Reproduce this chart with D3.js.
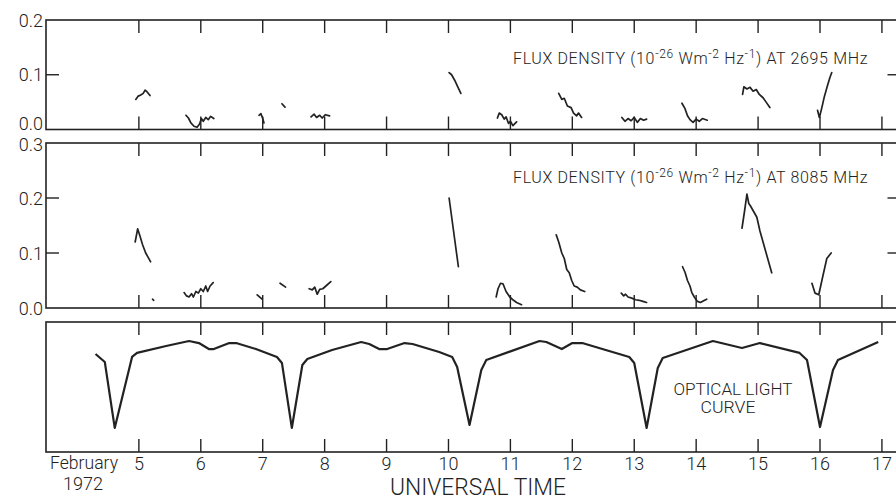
<!DOCTYPE html>
<html><head><meta charset="utf-8">
<script src="https://cdn.jsdelivr.net/npm/d3@7"></script>
<style>
html,body{margin:0;padding:0;background:#fff;}
svg text{font-family:"Roboto","DejaVu Sans",sans-serif;font-weight:300;fill:#222;}
</style></head>
<body><svg id="c" width="896" height="500"></svg>
<script>
// ---------- data ----------
const dayTicks = [5,6,7,8,9,10,11,12,13,14,15,16,17];
const dayLabels = ["5","6","7","8","9","10","11","12","13","14","15","16","17"];
const topTicks = [0.0, 0.1, 0.2];
const topTickLabels = ["0.0","0.1","0.2"];
const midTicks = [0.0, 0.1, 0.2, 0.3];
const midTickLabels = ["0.0","0.1","0.2","0.3"];

// 2695 MHz flux density segments [day, flux]
const f2695 = [
  [[4.95,0.055],[4.99,0.061],[5.03,0.063],[5.07,0.066],[5.1,0.072],[5.13,0.069],[5.18,0.062]],
  [[5.76,0.026],[5.8,0.021],[5.84,0.012],[5.89,0.006],[5.94,0.004],[5.98,0.01],[6.01,0.02],[6.04,0.015],[6.08,0.022],[6.12,0.018],[6.16,0.024],[6.21,0.02]],
  [[6.94,0.026],[6.97,0.029],[7.0,0.02],[7.02,0.012]],
  [[7.31,0.047],[7.36,0.041]],
  [[7.78,0.023],[7.83,0.028],[7.87,0.022],[7.92,0.026],[7.96,0.021],[8.01,0.027],[8.08,0.025]],
  [[10.01,0.104],[10.05,0.1],[10.1,0.09],[10.15,0.078],[10.2,0.066]],
  [[10.79,0.021],[10.82,0.03],[10.86,0.027],[10.9,0.019],[10.93,0.023],[10.97,0.011],[11.0,0.015],[11.04,0.007],[11.1,0.014]],
  [[11.78,0.066],[11.83,0.055],[11.87,0.057],[11.92,0.043],[11.98,0.04],[12.02,0.03],[12.07,0.025],[12.1,0.03],[12.15,0.022]],
  [[12.8,0.022],[12.85,0.015],[12.9,0.02],[12.95,0.016],[13.0,0.022],[13.05,0.013],[13.1,0.02],[13.15,0.017],[13.2,0.019]],
  [[13.77,0.048],[13.82,0.038],[13.86,0.025],[13.9,0.018],[13.95,0.013],[14.0,0.019],[14.05,0.015],[14.1,0.02],[14.18,0.017]],
  [[14.75,0.064],[14.77,0.078],[14.82,0.074],[14.87,0.077],[14.92,0.07],[14.97,0.073],[15.02,0.064],[15.08,0.058],[15.13,0.05],[15.19,0.04]],
  [[15.96,0.035],[15.99,0.022],[16.03,0.04],[16.07,0.06],[16.12,0.08],[16.16,0.095],[16.19,0.104]]
];

// 8085 MHz flux density segments [day, flux]
const f8085 = [
  [[4.94,0.12],[4.98,0.144],[5.02,0.13],[5.06,0.115],[5.11,0.1],[5.15,0.092],[5.19,0.084]],
  [[5.22,0.016],[5.24,0.014]],
  [[5.73,0.028],[5.77,0.022],[5.81,0.02],[5.85,0.026],[5.88,0.02],[5.92,0.03],[5.96,0.027],[6.0,0.035],[6.04,0.03],[6.08,0.04],[6.11,0.03],[6.15,0.04],[6.2,0.046]],
  [[6.91,0.024],[6.99,0.016]],
  [[7.28,0.045],[7.37,0.038]],
  [[7.75,0.035],[7.8,0.033],[7.84,0.038],[7.88,0.025],[7.92,0.034],[7.97,0.035],[8.02,0.04],[8.1,0.048]],
  [[10.01,0.2],[10.16,0.075]],
  [[10.77,0.02],[10.8,0.035],[10.84,0.045],[10.88,0.044],[10.93,0.03],[10.99,0.02],[11.05,0.014],[11.1,0.01],[11.18,0.006]],
  [[11.74,0.133],[11.78,0.12],[11.83,0.1],[11.87,0.09],[11.91,0.07],[11.95,0.064],[11.99,0.05],[12.03,0.04],[12.08,0.038],[12.13,0.033],[12.2,0.03]],
  [[12.79,0.027],[12.83,0.022],[12.86,0.025],[12.9,0.02],[12.96,0.018],[13.02,0.015],[13.08,0.014],[13.14,0.012],[13.2,0.01]],
  [[13.78,0.075],[13.82,0.065],[13.86,0.05],[13.9,0.04],[13.93,0.028],[13.97,0.02],[14.02,0.012],[14.07,0.01],[14.12,0.013],[14.17,0.016]],
  [[14.74,0.145],[14.78,0.175],[14.82,0.207],[14.85,0.19],[14.88,0.185],[14.93,0.175],[14.98,0.165],[15.03,0.14],[15.08,0.12],[15.13,0.1],[15.18,0.08],[15.22,0.064]],
  [[15.87,0.045],[15.92,0.027],[15.98,0.024],[16.04,0.055],[16.11,0.09],[16.18,0.1]]
];

// Optical light curve (relative brightness, arbitrary units)
const lightDays = [4.30,4.45,4.61,4.89,4.97,5.44,5.81,5.97,6.13,6.21,6.46,6.57,6.89,7.23,7.31,7.47,7.64,7.72,8.12,8.59,8.72,8.88,9.01,9.29,9.42,9.85,10.06,10.14,10.34,10.53,10.61,11.47,11.58,11.83,12.0,12.16,12.92,13.0,13.2,13.38,13.46,14.27,14.74,15.03,15.67,15.79,16.0,16.21,16.29,16.94];
const lightVals = [0.754,0.692,0.185,0.731,0.762,0.815,0.854,0.838,0.792,0.792,0.838,0.838,0.792,0.731,0.685,0.185,0.669,0.715,0.785,0.846,0.831,0.792,0.792,0.838,0.831,0.769,0.731,0.654,0.208,0.631,0.708,0.854,0.846,0.792,0.838,0.838,0.731,0.685,0.185,0.646,0.723,0.854,0.8,0.838,0.762,0.708,0.192,0.631,0.708,0.846];

// ---------- layout ----------
const svg = d3.select("#c");
const ink = "#222";
const x = d3.scaleLinear().domain([3.5, 17.3]).range([46, 900.5]);
const panels = [
  {top:20, bottom:129.5, y:d3.scaleLinear().domain([0,0.2]).range([129.5,20]), ticks:topTicks, labels:topTickLabels},
  {top:143, bottom:308, y:d3.scaleLinear().domain([0,0.3]).range([308,143]), ticks:midTicks, labels:midTickLabels},
  {top:322, bottom:452, y:d3.scaleLinear().domain([0,1]).range([452,322]), ticks:[], labels:[]}
];
const L = x.range()[0], R = x.range()[1];
const tl = 13;

panels.forEach((p, pi) => {
  const g = svg.append("g");
  g.append("rect").attr("x",L).attr("y",p.top).attr("width",R-L).attr("height",p.bottom-p.top)
    .attr("fill","none").attr("stroke",ink).attr("stroke-width",1.6);
  g.selectAll(".tt").data(dayTicks).join("line").attr("class","tt")
    .attr("x1",d=>x(d)).attr("x2",d=>x(d)).attr("y1",p.top).attr("y2",p.top+tl)
    .attr("stroke",ink).attr("stroke-width",1.4);
  g.selectAll(".tb").data(dayTicks).join("line").attr("class","tb")
    .attr("x1",d=>x(d)).attr("x2",d=>x(d)).attr("y1",p.bottom).attr("y2",p.bottom-tl)
    .attr("stroke",ink).attr("stroke-width",1.4);
  const inner = p.ticks.filter(t => t>p.y.domain()[0] && t<p.y.domain()[1]);
  g.selectAll(".yl").data(inner).join("line").attr("class","yl")
    .attr("x1",L).attr("x2",L+tl).attr("y1",d=>p.y(d)).attr("y2",d=>p.y(d))
    .attr("stroke",ink).attr("stroke-width",1.4);
  g.selectAll(".yr").data(inner).join("line").attr("class","yr")
    .attr("x1",R).attr("x2",R-tl).attr("y1",d=>p.y(d)).attr("y2",d=>p.y(d))
    .attr("stroke",ink).attr("stroke-width",1.4);
  g.selectAll(".ylab").data(p.ticks).join("text").attr("class","ylab")
    .attr("x",43).attr("y",d=>p.y(d)+6.5 - (pi===0 && d===0 ? 6 : 0) + (pi===1 && d===0.3 ? 1.5 : 0))
    .attr("text-anchor","end")
    .attr("font-size",18).text((d,i)=>p.labels[i]);
});

const lineTop = d3.line().x(d=>x(d[0])).y(d=>panels[0].y(d[1]));
const lineMid = d3.line().x(d=>x(d[0])).y(d=>panels[1].y(d[1]));
svg.append("g").selectAll("path").data(f2695).join("path")
  .attr("d",lineTop).attr("fill","none").attr("stroke",ink).attr("stroke-width",1.7)
  .attr("stroke-linejoin","round").attr("stroke-linecap","round");
svg.append("g").selectAll("path").data(f8085).join("path")
  .attr("d",lineMid).attr("fill","none").attr("stroke",ink).attr("stroke-width",1.7)
  .attr("stroke-linejoin","round").attr("stroke-linecap","round");

const lightPts = lightDays.map((d,i)=>[d, lightVals[i]]);
svg.append("path").datum(lightPts)
  .attr("d", d3.line().x(d=>x(d[0])).y(d=>panels[2].y(d[1])))
  .attr("fill","none").attr("stroke",ink).attr("stroke-width",2.2).attr("stroke-linejoin","round");

// x labels
svg.append("g").selectAll("text").data(dayTicks).join("text")
  .attr("x",d=>x(d)).attr("y",470).attr("text-anchor","middle").attr("font-size",18)
  .text((d,i)=>dayLabels[i]);
svg.append("text").attr("x",84).attr("y",469).attr("text-anchor","middle").attr("font-size",18)
  .attr("textLength",68).attr("lengthAdjust","spacingAndGlyphs").text("February");
svg.append("text").attr("x",83).attr("y",490).attr("text-anchor","middle").attr("font-size",18)
  .attr("textLength",40).attr("lengthAdjust","spacingAndGlyphs").text("1972");
svg.append("text").attr("x",478).attr("y",495).attr("text-anchor","middle").attr("font-size",24)
  .attr("textLength",176).attr("lengthAdjust","spacingAndGlyphs").text("UNIVERSAL TIME");

// panel captions
function fluxLabel(yBase, freq){
  const t = svg.append("text").attr("x",513).attr("y",yBase).attr("font-size",16)
    .attr("letter-spacing",0.65);
  t.append("tspan").text("FLUX DENSITY (10");
  t.append("tspan").attr("dy",-6).attr("font-size",12).text("-26");
  t.append("tspan").attr("dy",6).text(" Wm");
  t.append("tspan").attr("dy",-6).attr("font-size",12).text("-2");
  t.append("tspan").attr("dy",6).text(" Hz");
  t.append("tspan").attr("dy",-6).attr("font-size",12).text("-1");
  t.append("tspan").attr("dy",6).text(") AT "+freq+" MHz");
}
fluxLabel(64, "2695");
fluxLabel(183, "8085");

svg.append("text").attr("x",733).attr("y",395).attr("text-anchor","middle").attr("font-size",16.5)
  .attr("textLength",119).attr("lengthAdjust","spacingAndGlyphs").text("OPTICAL LIGHT");
svg.append("text").attr("x",728).attr("y",413).attr("text-anchor","middle").attr("font-size",16.5)
  .attr("textLength",55).attr("lengthAdjust","spacingAndGlyphs").text("CURVE");
</script></body></html>
